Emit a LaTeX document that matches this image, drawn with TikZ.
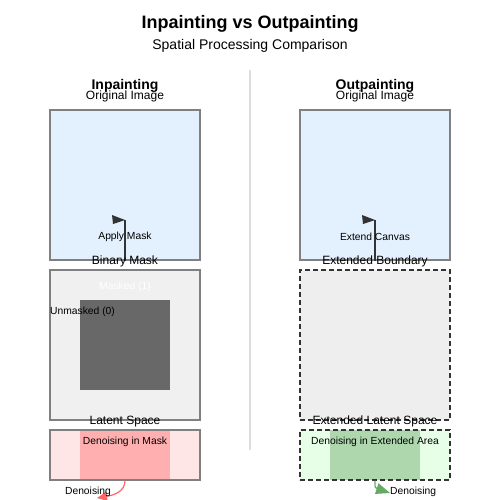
\documentclass[tikz,border=0pt]{standalone}
\usepackage{fontspec}
\setmainfont{Liberation Sans}
\usepackage{tikz}
\usetikzlibrary{arrows.meta}
\definecolor{imgblue}{HTML}{E3F0FD}
\definecolor{edgegray}{HTML}{808080}
\definecolor{maskbg}{HTML}{F0F0F0}
\definecolor{maskdark}{HTML}{686868}
\definecolor{latpink}{HTML}{FFE6E6}
\definecolor{denpink}{HTML}{FFAFAF}
\definecolor{redarrow}{HTML}{FF6666}
\definecolor{extbg}{HTML}{EEEEEE}
\definecolor{dashdark}{HTML}{333333}
\definecolor{latgreen}{HTML}{E6FFE6}
\definecolor{dengreen}{HTML}{AED7AE}
\definecolor{greenarrow}{HTML}{66AA66}
\definecolor{divgray}{HTML}{DDDDDD}

\begin{document}
\begin{tikzpicture}[x=1pt, y=-1pt,
    box/.style={rectangle, inner sep=0pt, minimum width=150pt},
    panel/.style={box, draw=edgegray, line width=1.2pt},
    dpanel/.style={box, draw=dashdark, line width=1.4pt, dash pattern=on 5pt off 3pt},
    lbl/.style={font=\fontsize{12}{14}\selectfont, inner sep=0pt},
    small/.style={font=\fontsize{10.3}{12}\selectfont, inner sep=0pt}]
    \useasboundingbox (0,0) rectangle (500,500);

    % Title
    \node[font=\fontsize{18}{20}\selectfont\bfseries] (title) at (250,24) {Inpainting vs Outpainting};
    \node[font=\fontsize{14}{16}\selectfont] (subtitle) at (250,46) {Spatial Processing Comparison};
    \draw[divgray, line width=1.2pt] (250,70) -- (250,450);

    % Inpainting (left)
    \node[font=\fontsize{14}{16}\selectfont\bfseries, inner sep=0pt] (headL) at (125,86) {Inpainting};
    \node[lbl] (origtxtL) at (125,96.5) {Original Image};
    \node[panel, fill=imgblue, minimum height=150pt] (origL) at (125,185) {};
    \node[panel, fill=maskbg, minimum height=150pt] (maskL) at (125,345) {};
    \node[box, fill=maskdark, minimum width=90pt, minimum height=90pt] (maskedL) at (125,345) {};
    \node[panel, fill=latpink, minimum height=50pt] (latL) at (125,455) {};
    \node[box, fill=denpink, minimum width=90pt, minimum height=48.8pt] (denL) at (125,455) {};
    \coordinate (flagL) at (125,220);
    \coordinate (tipL) at (97,498);

    \draw[dashdark, line width=1.2pt] (origL.south) -- (flagL);
    \fill[dashdark] (flagL) -- (112,215) -- (113,224) -- cycle;
    \node[small] (applyL) at (125,236.5) {Apply Mask};
    \node[lbl] (bintxtL) at (125,261.5) {Binary Mask};
    \node[small, text=white] (maskedtxt) at (125,286.5) {Masked (1)};
    \node[small, anchor=west] (unmaskedtxt) at (50,311.5) {Unmasked (0)};
    \node[lbl] (lattxtL) at (125,421.5) {Latent Space};
    \node[small] (dentxtL) at (125,441.5) {Denoising in Mask};
    \draw[redarrow, line width=1.2pt, -{Triangle[length=10pt, width=9pt]}] (latL.south) .. controls (125,491) and (115,495) .. (tipL);
    \node[small] (denoiseL) at (88,491.5) {Denoising};

    % Outpainting (right)
    \node[font=\fontsize{14}{16}\selectfont\bfseries, inner sep=0pt] (headR) at (375,86) {Outpainting};
    \node[lbl] (origtxtR) at (375,96.5) {Original Image};
    \node[panel, fill=imgblue, minimum height=150pt] (origR) at (375,185) {};
    \node[dpanel, fill=extbg, minimum height=150pt] (extR) at (375,345) {};
    \node[box, fill=latgreen, minimum height=50pt] (latR) at (375,455) {};
    \node[box, fill=dengreen, minimum width=90pt, minimum height=50pt] (denR) at (375,455) {};
    \node[dpanel, minimum height=50pt] (latbR) at (375,455) {};
    \coordinate (flagR) at (375,220);
    \coordinate (tipR) at (390,493);

    \draw[dashdark, line width=1.2pt] (origR.south) -- (flagR);
    \fill[dashdark] (flagR) -- (362,215) -- (363,224) -- cycle;
    \node[small] (extendR) at (375,236.5) {Extend Canvas};
    \node[lbl] (exttxtR) at (375,261.5) {Extended Boundary};
    \node[lbl] (lattxtR) at (375,421.5) {Extended Latent Space};
    \node[small] (dentxtR) at (375,441.5) {Denoising in Extended Area};
    \draw[greenarrow, line width=1.2pt, -{Triangle[length=14pt, width=11pt]}] (latbR.south) .. controls (375,488) .. (tipR);
    \node[small, anchor=west] (denoiseR) at (390,491.5) {Denoising};
\end{tikzpicture}
\end{document}
